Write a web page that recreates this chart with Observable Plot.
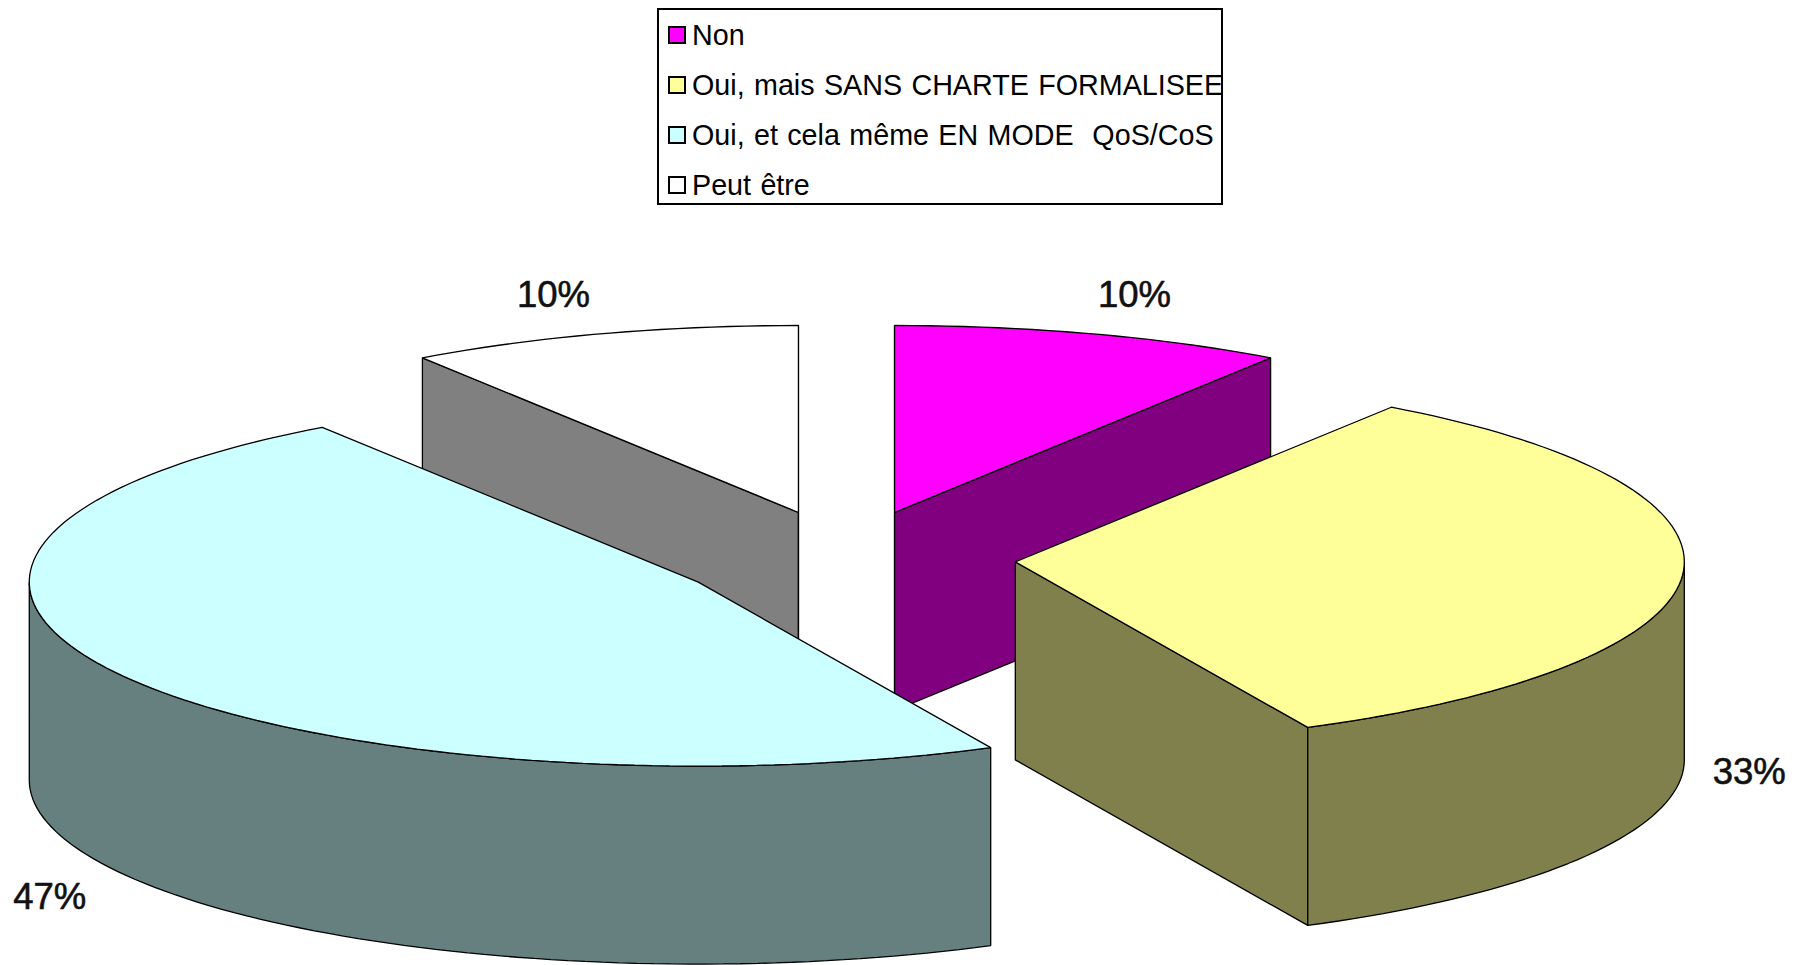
<!DOCTYPE html>
<html lang="fr">
<head>
<meta charset="utf-8">
<script src="https://cdn.jsdelivr.net/npm/d3@7"></script>
<script src="https://cdn.jsdelivr.net/npm/@observablehq/plot@0.6"></script>
<style>
  html, body { margin: 0; padding: 0; background: #fff; overflow: hidden; }
  #legend-wrap { position: relative; height: 210px; width: 1805px; }
  #legend { position: absolute; left: 657px; top: 8px; width: 562px; height: 193px; border: 2px solid #000; background: #fff;
    font-family: "Liberation Sans", Arial, sans-serif; font-size: 28.7px; word-spacing: 1.4px; color: #000; white-space: pre; }
  .row { position: absolute; left: 9px; height: 34px; line-height: 34px; display: flex; align-items: center; }
  .sw { width: 14px; height: 14px; border: 2px solid #000; margin-right: 6px; flex: none; }
  #chart svg { display: block; }
</style>
</head>
<body>
<div id="legend-wrap"><div id="legend"></div></div>
<div id="chart"></div>
<script>
// ---- data ----
const categories = ["Non", "Oui, mais SANS CHARTE FORMALISEE", "Oui, et cela même EN MODE  QoS/CoS", "Peut être"];
const values = [9.5, 33.3, 47.7, 9.5];          // slice sizes measured from the slice angles
const labels = ["10%", "33%", "47%", "10%"];    // printed data labels
const topColors = ["#ff00ff", "#ffff99", "#ccffff", "#ffffff"];
const wallColors = ["#800080", "#80804d", "#668080", "#808080"];

// ---- 3D pie layout ----
const centre = {x: 846, y: 558};
const rx = 669, ryBack = 187, ryFront = 184, depth = 198, explode = 0.256;
const explodeShiftX = [-2.3, -2, 0, 2.3];
const explodeShiftY = [-1, 0, 0, -1];
const labelRadius = [1.22, 1.10, 1.12, 1.22];
const labelOnBase = [false, true, true, false];
const labelShiftX = [0, 0, 0, -5];
const labelShiftY = [-3, -2, 14, -3];
const drawOrder = [3, 0, 2, 1];

const rad = Math.PI / 180;
const total = d3.sum(values);
const cum = d3.cumsum(values);
const ryAt = a => (Math.cos(a * rad) > 0 ? ryBack : ryFront);
const slices = values.map((v, i) => {
  const a1 = (cum[i] / total) * 360, a0 = a1 - (v / total) * 360, mid = (a0 + a1) / 2;
  return {
    i, a0, a1, mid,
    ax: centre.x + explode * rx * Math.sin(mid * rad) + explodeShiftX[i],
    ay: centre.y - explode * ryFront * Math.cos(mid * rad) + explodeShiftY[i]
  };
});
const pt = (s, a) => [s.ax + rx * Math.sin(a * rad), s.ay - ryAt(a) * Math.cos(a * rad)];
const arc = (s, a0, a1) => {
  const n = Math.max(2, Math.ceil(Math.abs(a1 - a0) / 1.5));
  return d3.range(n + 1).map(k => pt(s, a0 + (a1 - a0) * k / n));
};
const faces = [];
const addFace = (pts, fill) => {
  const id = faces.length ? faces[faces.length - 1].id + 1 : 0;
  pts.forEach(([x, y]) => faces.push({id, x, y, fill}));
};
const lowered = pts => pts.map(([x, y]) => [x, y + depth]).reverse();
for (const i of drawOrder) {
  const s = slices[i];
  const m = pt(s, s.mid);
  // flat cut faces, only those seen from the front
  for (const a of [s.a0, s.a1]) {
    const t = pt(s, a), tx = t[0] - s.ax, ty = t[1] - s.ay;
    const vertical = Math.abs(tx) < 1;
    const seen = vertical || (m[1] - s.ay) < (ty / tx) * (m[0] - s.ax);
    if (seen) addFace([[s.ax, s.ay], t, [t[0], t[1] + depth], [s.ax, s.ay + depth]], wallColors[i]);
  }
  // curved outer wall: the part of the rim facing the viewer
  const w0 = Math.max(s.a0, 90), w1 = Math.min(s.a1, 270);
  if (w1 > w0) { const rim = arc(s, w0, w1); addFace([...rim, ...lowered(rim)], wallColors[i]); }
  // top
  addFace([[s.ax, s.ay], ...arc(s, s.a0, s.a1)], topColors[i]);
}
const labelData = slices.map(s => {
  const k = labelRadius[s.i];
  return {
    text: labels[s.i],
    x: s.ax + k * rx * Math.sin(s.mid * rad) + labelShiftX[s.i],
    y: s.ay - k * ryFront * Math.cos(s.mid * rad) + (labelOnBase[s.i] ? depth : 0) + labelShiftY[s.i]
  };
});

const chart = Plot.plot({
  width: 1805, height: 755, margin: 0,
  style: {background: "#fff"},
  x: {domain: [0, 1805], range: [0, 1805], axis: null},
  y: {domain: [210, 965], range: [0, 755], axis: null},
  color: {type: "identity"},
  marks: [
    Plot.line(faces, {x: "x", y: "y", z: "id", fill: "fill", stroke: "#000", strokeWidth: 1.3, curve: "linear-closed", strokeLinejoin: "miter"}),
    Plot.text(labelData, {x: "x", y: "y", text: "text", fontSize: 36.5, fontFamily: "Liberation Sans", fill: "#111", stroke: "#111", strokeWidth: 0.6, textAnchor: "middle", lineAnchor: "middle"})
  ]
});
document.getElementById("chart").appendChild(chart);

// ---- legend (HTML above the SVG) ----
const legend = d3.select("#legend");
const rowTops = [8, 58, 108, 157.5];
categories.forEach((c, i) => {
  const r = legend.append("div").attr("class", "row").style("top", rowTops[i] + "px");
  r.append("span").attr("class", "sw").style("background", topColors[i]);
  r.append("span").text(c);
});
</script>
</body>
</html>
